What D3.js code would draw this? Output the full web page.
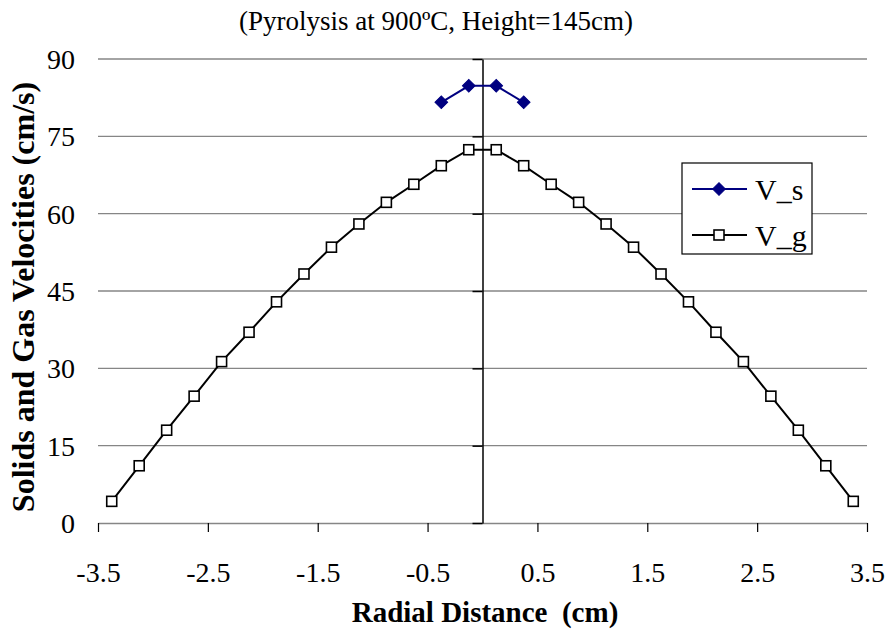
<!DOCTYPE html>
<html><head><meta charset="utf-8">
<script src="https://cdn.jsdelivr.net/npm/d3@7"></script>
<style>
html,body{margin:0;padding:0;background:#fff;}
svg{display:block;}
</style></head>
<body>
<svg id="chart" width="890" height="634"></svg>
<script>
const titleText = "(Pyrolysis at 900ºC, Height=145cm)";
const xTitle = "Radial Distance  (cm)";
const yTitle = "Solids and Gas Velocities (cm/s)";
const xTicks = [-3.5, -2.5, -1.5, -0.5, 0.5, 1.5, 2.5, 3.5];
const xTickLabels = ["-3.5", "-2.5", "-1.5", "-0.5", "0.5", "1.5", "2.5", "3.5"];
const yTicks = [0, 15, 30, 45, 60, 75, 90];
const seriesNames = ["V_s", "V_g"];
const rGas = [-3.375,-3.125,-2.875,-2.625,-2.375,-2.125,-1.875,-1.625,-1.375,-1.125,-0.875,-0.625,-0.375,-0.125,
              0.125,0.375,0.625,0.875,1.125,1.375,1.625,1.875,2.125,2.375,2.625,2.875,3.125,3.375];
const vGas = [4.2,11.1,18.0,24.6,31.3,37.0,42.9,48.3,53.5,58.0,62.2,65.7,69.3,72.4,
              72.4,69.3,65.7,62.2,58.0,53.5,48.3,42.9,37.0,31.3,24.6,18.0,11.1,4.2];
const rSol = [-0.375,-0.125,0.125,0.375];
const vSol = [81.6,84.8,84.8,81.6];

// pick an installed Times-like serif font
function pickFont(cands) {
  const c = document.createElement("canvas").getContext("2d");
  const s = "Solids and Gas Velocities 0123456789";
  const widthOf = f => { c.font = "40px " + f; return c.measureText(s).width; };
  const mono = widthOf("monospace"), sans = widthOf("sans-serif");
  for (const f of cands) {
    const w1 = widthOf(`'${f}',monospace`), w2 = widthOf(`'${f}',sans-serif`);
    if (w1 !== mono || w2 !== sans) return `'${f}',serif`;
  }
  return "serif";
}
const FONT = pickFont(["Liberation Serif", "Times New Roman", "Tinos", "Nimbus Roman", "Times", "DejaVu Serif"]);

const svg = d3.select("#chart");
const L = 98, R = 867, T = 59, B = 523;
const x = d3.scaleLinear().domain([-3.5, 3.5]).range([L, R]);
const y = d3.scaleLinear().domain([0, 90]).range([B, T]);

// gridlines
svg.append("g").selectAll("line").data(yTicks.filter(d => d > 0)).join("line")
  .attr("x1", L).attr("x2", R).attr("y1", d => y(d)).attr("y2", d => y(d))
  .attr("stroke", "#868686").attr("stroke-width", 1.3);

// x axis at y=0
const xAxis = svg.append("g").attr("transform", `translate(0,${y(0)})`)
  .call(d3.axisBottom(x).tickValues(xTicks).tickSize(9).tickSizeOuter(0)
    .tickFormat((d, i) => xTickLabels[i]));
xAxis.attr("font-family", FONT).attr("font-size", 28);
xAxis.select(".domain").attr("stroke", "#868686").attr("stroke-width", 1.3);
xAxis.selectAll(".tick line").attr("stroke", "#000").attr("stroke-width", 1.2);
xAxis.selectAll(".tick text").attr("font-size", 28).attr("fill", "#000")
  .style("font-family", FONT).attr("y", 59).attr("dy", 0);

// y axis at x=0 (ticks on left), labels at far left
const yAxis = svg.append("g").attr("transform", `translate(${x(0)},0)`)
  .call(d3.axisLeft(y).tickValues(yTicks).tickSize(10).tickSizeOuter(0).tickFormat(""));
yAxis.select(".domain").attr("stroke", "#000").attr("stroke-width", 1.5);
yAxis.selectAll(".tick line").attr("stroke", "#000").attr("stroke-width", 1.5);

svg.append("g").selectAll("text").data(yTicks).join("text")
  .attr("x", 75).attr("y", d => y(d)).attr("dy", "0.36em")
  .attr("text-anchor", "end").attr("font-size", 28).style("font-family", FONT).text(d => d);

// lines
const line = d3.line().x(d => x(d[0])).y(d => y(d[1]));
const gasData = rGas.map((r, i) => [r, vGas[i]]);
const solData = rSol.map((r, i) => [r, vSol[i]]);
svg.append("path").datum(gasData).attr("d", line).attr("fill", "none")
  .attr("stroke", "#000").attr("stroke-width", 2);
svg.append("path").datum(solData).attr("d", line).attr("fill", "none")
  .attr("stroke", "#000080").attr("stroke-width", 2);

// markers
const sq = 10;
svg.append("g").selectAll("rect").data(gasData).join("rect")
  .attr("x", d => x(d[0]) - sq/2).attr("y", d => y(d[1]) - sq/2)
  .attr("width", sq).attr("height", sq)
  .attr("fill", "#fff").attr("stroke", "#000").attr("stroke-width", 1.6);
const diamond = d3.symbol().type(d3.symbolSquare).size(80);
svg.append("g").selectAll("path").data(solData).join("path")
  .attr("transform", d => `translate(${x(d[0])},${y(d[1])}) rotate(45)`)
  .attr("d", diamond).attr("fill", "#000080").attr("stroke", "#000080");

// title
svg.append("text").attr("x", 436).attr("y", 30).attr("text-anchor", "middle")
  .attr("font-size", 27).style("font-family", FONT).text(titleText);

// axis titles
svg.append("text").attr("x", 485).attr("y", 622).attr("text-anchor", "middle")
  .attr("font-size", 29).attr("font-weight", "bold").style("font-family", FONT)
  .style("white-space", "pre").text(xTitle);
svg.append("text").attr("transform", `translate(34,297) rotate(-90)`)
  .attr("text-anchor", "middle").attr("font-size", 32).attr("font-weight", "bold")
  .style("font-family", FONT).text(yTitle);

// legend
const lg = svg.append("g");
lg.append("rect").attr("x", 682).attr("y", 163).attr("width", 130).attr("height", 91)
  .attr("fill", "#fff").attr("stroke", "#000").attr("stroke-width", 1.2);
const legItems = [{name: seriesNames[0], color: "#000080", type: "diamond", yy: 189},
                  {name: seriesNames[1], color: "#000", type: "square", yy: 235}];
legItems.forEach(it => {
  lg.append("line").attr("x1", 692).attr("x2", 747).attr("y1", it.yy).attr("y2", it.yy)
    .attr("stroke", it.color).attr("stroke-width", 2);
  if (it.type === "diamond") {
    lg.append("path").attr("transform", `translate(719,${it.yy}) rotate(45)`)
      .attr("d", diamond).attr("fill", it.color).attr("stroke", it.color);
  } else {
    lg.append("rect").attr("x", 719 - sq/2).attr("y", it.yy - sq/2).attr("width", sq).attr("height", sq)
      .attr("fill", "#fff").attr("stroke", it.color).attr("stroke-width", 1.6);
  }
  lg.append("text").attr("x", 755).attr("y", it.yy).attr("dy", "0.36em")
    .attr("font-size", 30).style("font-family", FONT).text(it.name);
});
</script>
</body></html>
